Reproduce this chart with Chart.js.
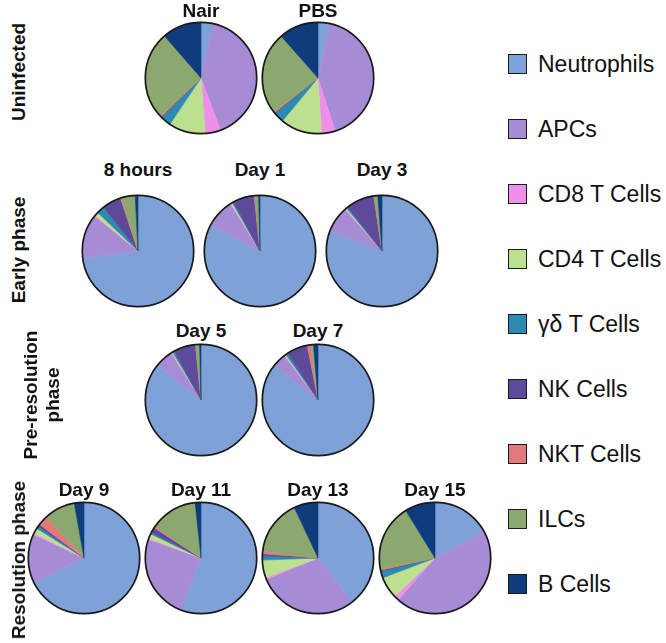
<!DOCTYPE html>
<html>
<head>
<meta charset="utf-8">
<script src="https://cdn.jsdelivr.net/npm/chart.js@4.4.1/dist/chart.umd.min.js"></script>
<style>
  html, body { margin: 0; padding: 0; background: #ffffff; }
  body { width: 666px; height: 643px; position: relative; overflow: hidden;
         font-family: "Liberation Sans", Arial, Helvetica, sans-serif; color: #111; }
  .title { position: absolute; font-weight: bold; font-size: 19px; transform: translate(-50%, -50%); white-space: nowrap; }
  .rowlab { position: absolute; font-weight: bold; font-size: 19px; text-align: center; line-height: 22px;
            transform: translate(-50%, -50%) rotate(-90deg); white-space: nowrap; }
  canvas.pie { position: absolute; }
  .leg { position: absolute; left: 508px; height: 22px; display: flex; align-items: center; font-size: 23px; white-space: nowrap; }
  .leg .sw { width: 17px; height: 18px; border: 1.5px solid #1a1a1a; margin-right: 11px; flex: none; }
</style>
</head>
<body>
<script>
// Cell categories (legend order = slice order, clockwise from 12 o'clock)
const categories = ["Neutrophils", "APCs", "CD8 T Cells", "CD4 T Cells", "\u03b3\u03b4 T Cells", "NK Cells", "NKT Cells", "ILCs", "B Cells"];

// Percent composition per condition
const nair  = [3.7, 40.6, 4.5, 10.6, 3.0, 0.3, 0.3, 25.6, 11.4];
const pbs   = [3.5, 41.5, 4.0, 12.0, 3.0, 0.3, 0.3, 23.9, 11.5];
const h8    = [73.0, 12.8, 0.3, 1.0, 2.3, 5.5, 0.3, 4.0, 0.8];
const day1  = [82.5, 8.6, 0.2, 0.4, 0.4, 6.2, 0.2, 1.1, 0.4];
const day3  = [81.0, 7.5, 0.2, 0.3, 0.4, 8.2, 0.2, 1.0, 1.2];
const day5  = [85.8, 5.2, 0.2, 0.3, 0.5, 6.4, 0.1, 1.1, 0.4];
const day7  = [85.8, 3.9, 0.2, 0.3, 0.6, 6.1, 1.0, 0.8, 1.3];
const day9  = [67.5, 14.4, 0.5, 1.5, 0.7, 0.7, 3.0, 8.9, 2.8];
const day11 = [56.0, 24.4, 0.4, 1.3, 0.5, 1.5, 0.3, 13.9, 1.7];
const day13 = [39.6, 29.2, 0.5, 5.1, 1.2, 0.6, 0.7, 16.1, 7.0];
const day15 = [17.2, 44.3, 1.4, 6.3, 1.9, 0.4, 0.3, 19.4, 8.8];

// Panel titles and phase labels
const titles = ["Nair", "PBS", "8 hours", "Day 1", "Day 3", "Day 5", "Day 7", "Day 9", "Day 11", "Day 13", "Day 15"];
const phaseLabels = ["Uninfected", "Early phase", "Pre-resolution\nphase", "Resolution phase"];

// ---- styling / layout (not data) ----
const colors = ["#7ea2d8", "#a78bd5", "#ee90ea", "#bde08f", "#2b8bb0", "#5e4a9b", "#e07b7b", "#8ca86f", "#0e3c7d"];
const seriesList = [nair, pbs, h8, day1, day3, day5, day7, day9, day11, day13, day15];
const centers = [
  [201, 78], [318, 78],
  [138, 251], [260, 251], [382, 251],
  [201, 400], [318, 400],
  [84, 558], [201, 558], [318, 558], [435, 558]
];
const titleY = [11, 11, 170, 170, 170, 331, 331, 490, 490, 490, 490];
const phasePos = [[19, 72], [19, 250], [42, 395], [19, 560]];

const outline = {
  id: 'outline',
  afterDatasetsDraw(chart) {
    const arc = chart.getDatasetMeta(0).data[0];
    if (!arc) return;
    const ctx = chart.ctx;
    ctx.save();
    ctx.beginPath();
    ctx.arc(arc.x, arc.y, arc.outerRadius, 0, Math.PI * 2);
    ctx.lineWidth = 1.7;
    ctx.strokeStyle = '#1a1a1a';
    ctx.stroke();
    ctx.restore();
  }
};

const S = 116;
seriesList.forEach((vals, i) => {
  const [cx, cy] = centers[i];
  const cv = document.createElement('canvas');
  cv.className = 'pie';
  cv.width = S; cv.height = S;
  cv.style.width = S + 'px'; cv.style.height = S + 'px';
  cv.style.left = (cx - S / 2) + 'px';
  cv.style.top = (cy - S / 2) + 'px';
  document.body.appendChild(cv);
  new Chart(cv, {
    type: 'pie',
    data: {
      labels: categories,
      datasets: [{ data: vals, backgroundColor: colors, borderColor: colors, borderWidth: 0.6 }]
    },
    options: {
      responsive: false,
      devicePixelRatio: 1,
      animation: false,
      layout: { padding: 2 },
      plugins: { legend: { display: false }, tooltip: { enabled: false } }
    },
    plugins: [outline]
  });
  const t = document.createElement('div');
  t.className = 'title';
  t.textContent = titles[i];
  t.style.left = cx + 'px';
  t.style.top = titleY[i] + 'px';
  document.body.appendChild(t);
});

phaseLabels.forEach((lab, i) => {
  const d = document.createElement('div');
  d.className = 'rowlab';
  d.innerHTML = lab.split('\n').join('<br>');
  d.style.left = phasePos[i][0] + 'px';
  d.style.top = phasePos[i][1] + 'px';
  document.body.appendChild(d);
});

categories.forEach((c, i) => {
  const row = document.createElement('div');
  row.className = 'leg';
  row.style.top = (64 + 65 * i - 11) + 'px';
  const sw = document.createElement('span');
  sw.className = 'sw';
  sw.style.background = colors[i];
  const tx = document.createElement('span');
  tx.textContent = c;
  row.appendChild(sw); row.appendChild(tx);
  document.body.appendChild(row);
});
</script>
</body>
</html>
